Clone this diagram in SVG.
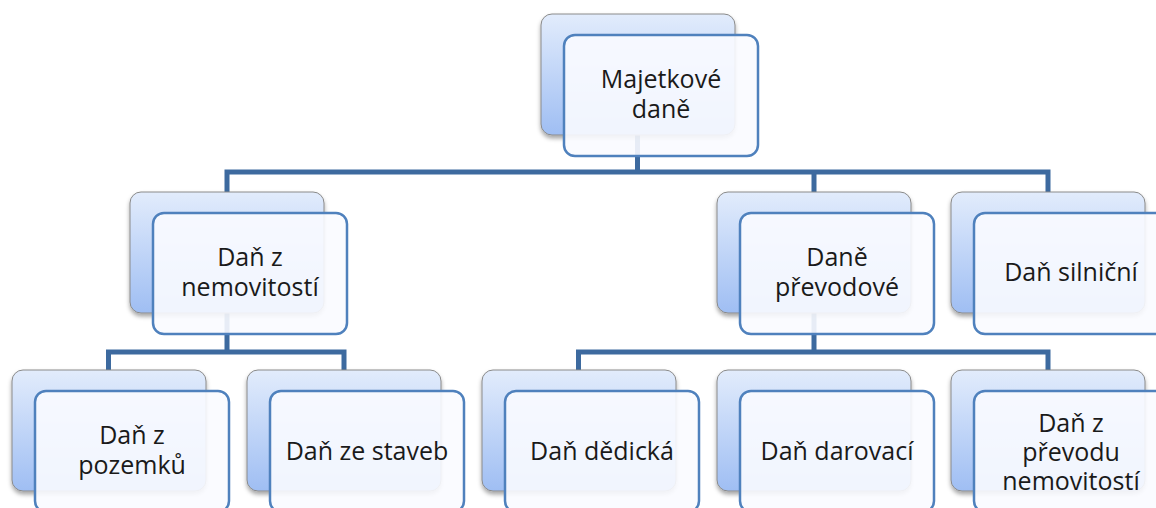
<svg xmlns="http://www.w3.org/2000/svg" width="1156" height="508" viewBox="0 0 1156 508">
<defs>
<linearGradient id="bg" x1="0" y1="0" x2="0" y2="1">
<stop offset="0" stop-color="#e2ecfc"/>
<stop offset="1" stop-color="#9fbef3"/>
</linearGradient>
<filter id="sh" x="-10%" y="-10%" width="120%" height="125%">
<feDropShadow dx="0" dy="3" stdDeviation="2" flood-color="#000" flood-opacity="0.35"/>
</filter>
</defs>
<style>
.back{fill:url(#bg);stroke:#8a8a8a;stroke-width:1;filter:url(#sh)}
.front{fill:#f9fbff;fill-opacity:0.9;stroke:#4f81bd;stroke-width:2.5}
.conn{fill:none;stroke:#3d6a9f;stroke-width:5;stroke-linejoin:miter}
text{font-family:"Open Sans","Noto Sans",sans-serif;font-size:25px;fill:#1a1a1a;text-anchor:middle}
</style>
<rect width="1156" height="508" fill="#ffffff"/>
<g id="connectors">
<path class="conn" d="M637.5 135 V172 M227 192 V172 H1048 V192 M814 172 V192"/>
<path class="conn" d="M227 313 V352 M108.5 370 V352 H344 V370"/>
<path class="conn" d="M814 313 V352 M578.5 370 V352 H1048 V370"/>
</g>
<g id="n-majetkove">
<rect class="back" x="541" y="14" width="194" height="121" rx="11"/>
<rect class="front" x="564" y="35" width="194" height="121" rx="11"/>
<text x="661" y="88">Majetkové</text>
<text x="661" y="118">daně</text>
</g>
<g id="n-nemovitosti">
<rect class="back" x="130" y="192" width="194" height="121" rx="11"/>
<rect class="front" x="153" y="213" width="194" height="121" rx="11"/>
<text x="250" y="266">Daň z</text>
<text x="250" y="296">nemovitostí</text>
</g>
<g id="n-prevodove">
<rect class="back" x="717" y="192" width="194" height="121" rx="11"/>
<rect class="front" x="740" y="213" width="194" height="121" rx="11"/>
<text x="837" y="266">Daně</text>
<text x="837" y="296">převodové</text>
</g>
<g id="n-silnicni">
<rect class="back" x="951" y="192" width="194" height="121" rx="11"/>
<rect class="front" x="974" y="213" width="194" height="121" rx="11"/>
<text x="1071" y="281">Daň silniční</text>
</g>
<g id="n-pozemku">
<rect class="back" x="12" y="370" width="194" height="121" rx="11"/>
<rect class="front" x="35" y="391" width="194" height="121" rx="11"/>
<text x="132" y="444">Daň z</text>
<text x="132" y="474">pozemků</text>
</g>
<g id="n-staveb">
<rect class="back" x="247" y="370" width="194" height="121" rx="11"/>
<rect class="front" x="270" y="391" width="194" height="121" rx="11"/>
<text x="367" y="460">Daň ze staveb</text>
</g>
<g id="n-dedicka">
<rect class="back" x="482" y="370" width="194" height="121" rx="11"/>
<rect class="front" x="505" y="391" width="194" height="121" rx="11"/>
<text x="602" y="460">Daň dědická</text>
</g>
<g id="n-darovaci">
<rect class="back" x="717" y="370" width="194" height="121" rx="11"/>
<rect class="front" x="740" y="391" width="194" height="121" rx="11"/>
<text x="837" y="460">Daň darovací</text>
</g>
<g id="n-prevod-nem">
<rect class="back" x="951" y="370" width="194" height="121" rx="11"/>
<rect class="front" x="974" y="391" width="194" height="121" rx="11"/>
<text x="1071" y="432">Daň z</text>
<text x="1071" y="461">převodu</text>
<text x="1071" y="490">nemovitostí</text>
</g>
</svg>
